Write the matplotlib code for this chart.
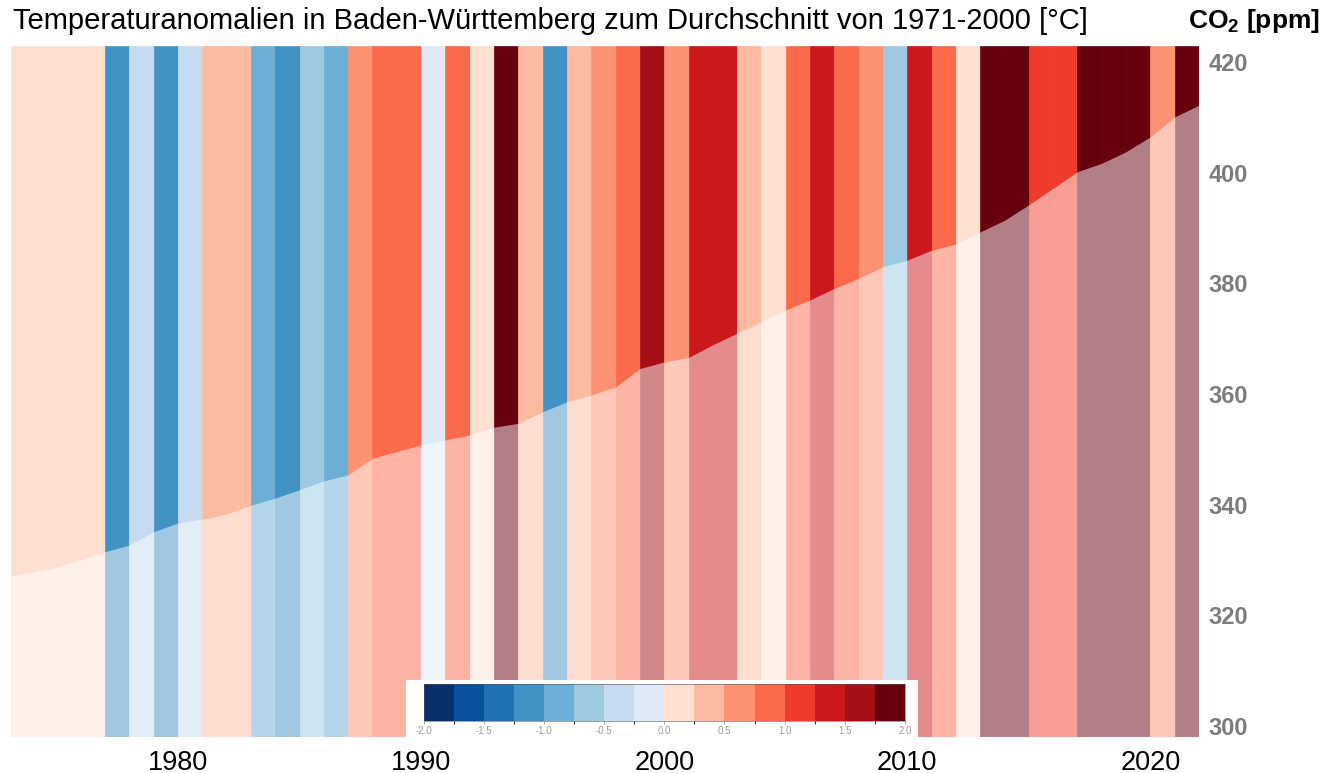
import numpy as np
import matplotlib as mpl
import matplotlib.pyplot as plt
from matplotlib.colors import ListedColormap, BoundaryNorm

plt.rcParams['font.family'] = ['Liberation Sans', 'DejaVu Sans']
plt.rcParams['mathtext.fontset'] = 'custom'
plt.rcParams['mathtext.rm'] = 'Liberation Sans'
plt.rcParams['mathtext.bf'] = 'Liberation Sans:bold'

# temperature anomaly per year (stripe starts at the year)
years = np.arange(1973, 2022)
anomaly = [0.15, 0.1, 0.2, 0.1,
           -1.1, -0.4, -1.05, -0.35, 0.35, 0.45, -0.8, -1.1, -0.6, -0.85,
           0.6, 0.85, 0.9, -0.1, 0.8, 0.15, 1.9, 0.4, -1.05, 0.35,
           0.65, 0.85, 1.6, 0.7, 1.35, 1.4, 0.4, 0.1, 0.8, 1.3,
           0.95, 0.55, -0.6, 1.3, 0.8, 0.15, 1.9, 1.95, 1.1, 1.2,
           1.8, 1.95, 1.85, 0.7, 1.9]

# CO2 concentration [ppm]
co2_years = np.arange(1973, 2023)
co2 = [327.0, 327.8, 328.7, 330.0, 331.5, 332.7, 335.1, 336.7, 337.4, 338.3,
       339.9, 341.2, 342.7, 344.3, 345.4, 348.4, 349.6, 350.8, 351.7, 352.6,
       354.0, 354.7, 356.8, 358.6, 359.8, 361.3, 364.6, 365.8, 366.6, 368.9,
       371.0, 373.1, 375.2, 377.0, 379.1, 380.9, 383.0, 384.2, 386.0, 387.1,
       389.3, 391.4, 394.2, 397.2, 400.2, 401.7, 403.8, 406.5, 410.1, 412.2]

palette = ['#08306b', '#08519c', '#2171b5', '#4292c6', '#6baed6', '#9ecae1',
           '#c6dbef', '#deebf7', '#fee0d2', '#fcbba1', '#fc9272', '#fb6a4a',
           '#ef3b2c', '#cb181d', '#a50f15', '#67000d']
bounds = np.linspace(-2, 2, 17)
cbar_ticks = [-2.0, -1.5, -1.0, -0.5, 0.0, 0.5, 1.0, 1.5, 2.0]
xticks = [1980, 1990, 2000, 2010, 2020]
yticks = [300, 320, 340, 360, 380, 400, 420]

cmap = ListedColormap(palette)
norm = BoundaryNorm(bounds, cmap.N)
cols = [cmap(norm(v)) for v in anomaly]

fig = plt.figure(figsize=(13.35, 7.73), dpi=100)
ax = fig.add_axes([0.00824, 0.04657, 0.8899, 0.8939])

ax.bar(years, 1, width=1, align='edge', bottom=0, color=cols, edgecolor=cols,
       linewidth=0.5, transform=ax.get_xaxis_transform())
ax.set_xlim(1973.13, 2022)
ax.set_ylim(298, 422.9)
ax.fill_between(co2_years, ax.get_ylim()[0], co2, color='white', alpha=0.5,
                linewidth=0)

for s in ax.spines.values():
    s.set_visible(False)
ax.set_xticks(xticks)
ax.set_yticks(yticks)
ax.yaxis.tick_right()
ax.tick_params(axis='x', length=0, pad=9, labelsize=19.5, labelcolor='black')
ax.tick_params(axis='y', length=0, pad=7, labelsize=17, labelcolor='#7c7c7c')
for lbl in ax.get_yticklabels():
    lbl.set_fontweight('bold')

fig.text(13 / 1335, 1 - 21 / 773,
         'Temperaturanomalien in Baden-Württemberg zum Durchschnitt von 1971-2000 [°C]',
         fontsize=21, va='center', ha='left')
fig.text(1320 / 1335, 1 - 21 / 773, r'CO$_\mathbf{2}$ [ppm]', fontsize=19,
         fontweight='bold', va='center', ha='right')

# colorbar legend on a white box
box = fig.add_axes([0.3041, 0.0401, 0.3835, 0.0802])
box.set_facecolor('white')
box.set_xticks([])
box.set_yticks([])
for s in box.spines.values():
    s.set_visible(False)

cax = fig.add_axes([0.3173, 0.0677, 0.3606, 0.0475])
cb = fig.colorbar(mpl.cm.ScalarMappable(norm=norm, cmap=cmap), cax=cax,
                  orientation='horizontal', ticks=cbar_ticks)
cb.ax.set_xticklabels(['%.1f' % t for t in cbar_ticks])
cb.ax.tick_params(labelsize=7, labelcolor='#9a9a9a', color='#888888',
                  length=2, width=0.5, pad=2)
cb.outline.set_linewidth(0.4)
cb.outline.set_edgecolor('#555555')

fig.savefig('out.png', dpi=100)
